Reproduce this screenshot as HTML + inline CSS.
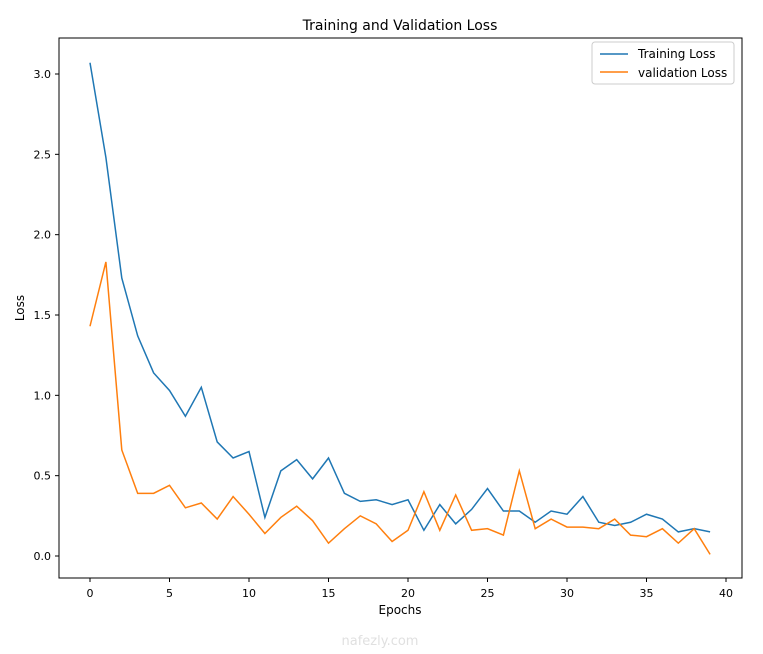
<!DOCTYPE html>
<html><head><meta charset="utf-8"><style>
body{margin:0;background:#fff;font-family:"Liberation Sans","DejaVu Sans",sans-serif;}
svg text{font-family:"DejaVu Sans","Liberation Sans",sans-serif;}
</style></head><body>
<svg id="chart" width="763" height="649">
<text x="400" y="30" font-size="14" text-anchor="middle" fill="#000">Training and Validation Loss</text>
<text x="400" y="614" font-size="12" text-anchor="middle">Epochs</text>
<text x="24" y="308" font-size="12" text-anchor="middle" transform="rotate(-90 24 308)">Loss</text>
<g id="ticks"></g>
<g id="lines"></g>
<rect x="59" y="38" width="683" height="540" fill="none" stroke="#000" stroke-width="1"/>
<g>
<rect x="592" y="42" width="142" height="42" fill="#fff" stroke="#ccc" rx="3"/>
<line x1="600" y1="54" x2="628" y2="54" stroke="#1f77b4" stroke-width="1.5"/>
<text x="638" y="58" font-size="12">Training Loss</text>
<line x1="600" y1="72" x2="628" y2="72" stroke="#ff7f0e" stroke-width="1.5"/>
<text x="638" y="77" font-size="12">validation Loss</text>
</g>
<text x="380" y="645" font-size="13" text-anchor="middle" fill="#e0e0e0">nafezly.com</text>
</svg>
<script>
const trainLoss=[3.07,2.48,1.73,1.37,1.14,1.03,0.87,1.05,0.71,0.61,0.65,0.24,0.53,0.60,0.48,0.61,0.39,0.34,0.35,0.32,0.35,0.16,0.32,0.20,0.29,0.42,0.28,0.28,0.21,0.28,0.26,0.37,0.21,0.19,0.21,0.26,0.23,0.15,0.17,0.15];
const valLoss=[1.43,1.83,0.66,0.39,0.39,0.44,0.30,0.33,0.23,0.37,0.26,0.14,0.24,0.31,0.22,0.08,0.17,0.25,0.20,0.09,0.16,0.40,0.16,0.38,0.16,0.17,0.13,0.53,0.17,0.23,0.18,0.18,0.17,0.23,0.13,0.12,0.17,0.08,0.17,0.01];
const xTicks=[0,5,10,15,20,25,30,35,40];
const yTicks=[0.0,0.5,1.0,1.5,2.0,2.5,3.0];
const NS="http://www.w3.org/2000/svg";
const X=v=>90+v*(726-90)/40;
const Y=v=>556-v*(556-74)/3;
const tg=document.getElementById('ticks'),lg=document.getElementById('lines');
xTicks.forEach(t=>{
 const l=document.createElementNS(NS,'line');
 l.setAttribute('x1',X(t));l.setAttribute('x2',X(t));l.setAttribute('y1',578);l.setAttribute('y2',582);l.setAttribute('stroke','#000');
 
 
 tg.appendChild(l);
 const s=document.createElementNS(NS,'text');
 s.setAttribute('x',X(t));s.setAttribute('y',597);s.setAttribute('font-size','11');s.setAttribute('text-anchor','middle');s.textContent=t;
 
 
 tg.appendChild(s);
});
yTicks.forEach(t=>{
 const l=document.createElementNS(NS,'line');
 l.setAttribute('x1',55);l.setAttribute('x2',59);l.setAttribute('y1',Y(t));l.setAttribute('y2',Y(t));l.setAttribute('stroke','#000');
 
 
 tg.appendChild(l);
 const s=document.createElementNS(NS,'text');
 s.setAttribute('x',51);s.setAttribute('y',Y(t)+4);s.setAttribute('font-size','11');s.setAttribute('text-anchor','end');s.textContent=t.toFixed(1);
 
 
 tg.appendChild(s);
});
function line(arr,color,name){
 const p=document.createElementNS(NS,'polyline');
 p.setAttribute('points',arr.map((v,i)=>X(i)+','+Y(v)).join(' '));
 p.setAttribute('fill','none');p.setAttribute('stroke',color);p.setAttribute('stroke-width','1.5');
 
 
 lg.appendChild(p);
}
line(trainLoss,'#1f77b4','training-loss-line');
line(valLoss,'#ff7f0e','validation-loss-line');
</script>
</body></html>
